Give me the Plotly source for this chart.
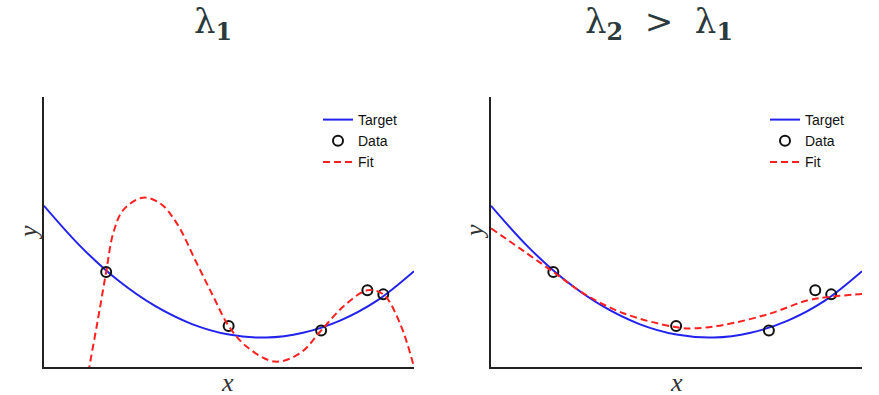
import plotly.graph_objects as go

# ---- data (x and y normalised to 0..1 axes) ----
target_x = [0.0, 0.1, 0.2, 0.3, 0.4, 0.5, 0.6, 0.7, 0.8, 0.9, 1.0]
target_y = [0.597, 0.445, 0.321, 0.226, 0.159, 0.120, 0.109, 0.127, 0.172, 0.246, 0.355]

data_x = [0.168, 0.499, 0.749, 0.874, 0.917]
data_y = [0.352, 0.152, 0.135, 0.284, 0.269]

fit1_x = [0.105, 0.1225, 0.147, 0.168, 0.187, 0.214, 0.267, 0.314, 0.359, 0.413, 0.458,
          0.499, 0.548, 0.624, 0.692, 0.749, 0.809, 0.874, 0.917, 0.962, 1.0]
fit1_y = [-0.14, 0.0, 0.186, 0.352, 0.495, 0.581, 0.627, 0.606, 0.532, 0.384, 0.260,
          0.152, 0.075, 0.020, 0.051, 0.135, 0.224, 0.284, 0.269, 0.162, 0.0]

fit2_x = [0.0, 0.168, 0.249, 0.357, 0.492, 0.546, 0.627, 0.748, 0.852, 0.914, 1.0]
fit2_y = [0.514, 0.352, 0.273, 0.199, 0.149, 0.143, 0.156, 0.196, 0.246, 0.260, 0.270]

titles = ["λ<sub><b>1</b></sub>",
          "λ<sub><b>2</b></sub>&nbsp;&nbsp;&gt;&nbsp;&nbsp;λ<sub><b>1</b></sub>"]
legend_names = ["Target", "Data", "Fit"]

W, H = 879, 395
BLUE = "#2222ee"
RED = "#ff2020"

fig = go.Figure()

panels = [("x", "y", "legend", fit1_x, fit1_y), ("x2", "y2", "legend2", fit2_x, fit2_y)]
for xa, ya, lg, fx, fy in panels:
    fig.add_trace(go.Scatter(x=target_x, y=target_y, mode="lines", name=legend_names[0],
                             line=dict(color=BLUE, width=2, shape="spline", smoothing=1.0),
                             xaxis=xa, yaxis=ya, legend=lg))
    fig.add_trace(go.Scatter(x=data_x, y=data_y, mode="markers", name=legend_names[1],
                             marker=dict(symbol="circle-open", size=10, color="#111111",
                                         line=dict(width=2, color="#111111")),
                             xaxis=xa, yaxis=ya, legend=lg, cliponaxis=False))
    fig.add_trace(go.Scatter(x=fx, y=fy, mode="lines", name=legend_names[2],
                             line=dict(color=RED, width=2, dash="7px,4px", shape="spline", smoothing=1.0),
                             xaxis=xa, yaxis=ya, legend=lg))

def px_x(p):
    return p / W

def px_y(p):
    return (H - p) / H

ax_common = dict(showgrid=False, zeroline=False, showticklabels=False, ticks="",
                 showline=True, linecolor="#222222", linewidth=1.5, range=[0, 1],
                 fixedrange=True)

legend_font = dict(family="Liberation Sans, Arial, sans-serif", size=14, color="#111111")

fig.update_layout(
    width=W, height=H, autosize=False,
    margin=dict(l=0, r=0, t=0, b=0),
    paper_bgcolor="white", plot_bgcolor="white",
    xaxis=dict(domain=[px_x(44), px_x(414)], anchor="y", **ax_common),
    yaxis=dict(domain=[px_y(367), px_y(97)], anchor="x", **ax_common),
    xaxis2=dict(domain=[px_x(491), px_x(862)], anchor="y2", **ax_common),
    yaxis2=dict(domain=[px_y(367), px_y(97)], anchor="x2", **ax_common),
    legend=dict(x=px_x(318), y=px_y(104), xanchor="left", yanchor="top",
                bgcolor="rgba(0,0,0,0)", itemwidth=30, tracegroupgap=0, font=legend_font),
    legend2=dict(x=px_x(765), y=px_y(104), xanchor="left", yanchor="top",
                 bgcolor="rgba(0,0,0,0)", itemwidth=30, tracegroupgap=0, font=legend_font),
    showlegend=True,
)

title_font = dict(family="DejaVu Serif, Liberation Serif, serif", size=34, color="#2b3a3c")
label_font = dict(family="Liberation Serif, DejaVu Serif, serif", size=26, color="#333333")

annotations = [
    dict(text=titles[0], x=px_x(213), y=px_y(24), xref="paper", yref="paper",
         xanchor="center", yanchor="middle", showarrow=False, font=title_font),
    dict(text=titles[1], x=px_x(659), y=px_y(24), xref="paper", yref="paper",
         xanchor="center", yanchor="middle", showarrow=False, font=title_font),
    dict(text="<i>x</i>", x=px_x(228), y=px_y(382), xref="paper", yref="paper",
         xanchor="center", yanchor="middle", showarrow=False, font=label_font),
    dict(text="<i>x</i>", x=px_x(676), y=px_y(382), xref="paper", yref="paper",
         xanchor="center", yanchor="middle", showarrow=False, font=label_font),
    dict(text="<i>y</i>", x=px_x(28), y=px_y(232), xref="paper", yref="paper",
         xanchor="center", yanchor="middle", showarrow=False, textangle=-90, font=label_font),
    dict(text="<i>y</i>", x=px_x(474), y=px_y(232), xref="paper", yref="paper",
         xanchor="center", yanchor="middle", showarrow=False, textangle=-90, font=label_font),
]
fig.update_layout(annotations=annotations)

fig.write_html(
    "out.html",
    config={"displayModeBar": False},
    post_script="document.body.style.margin='0';document.body.style.padding='0';"
                "document.body.style.overflow='hidden';",
)
